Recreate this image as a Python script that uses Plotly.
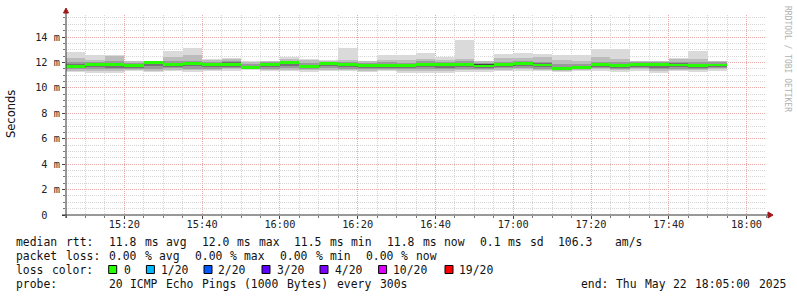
import re
import pandas as pd
import plotly.graph_objects as go

# ---------------- data (values in ms) ----------------
median = [11.70, 11.84, 11.84, 11.78, 12.00, 11.85, 11.95, 11.83, 11.82, 11.60,
          11.82, 12.00, 11.70, 11.93, 11.85, 11.74, 11.77, 11.78, 11.85, 11.81,
          11.86, 11.72, 11.85, 11.93, 11.80, 11.53, 11.58, 11.85, 11.78, 11.81,
          11.83, 11.80, 11.77, 11.80]
smoke_max = [12.82, 12.55, 12.60, 12.12, 12.15, 12.90, 13.10, 12.25, 12.35, 12.10,
             12.15, 12.40, 12.30, 12.22, 13.10, 12.15, 12.55, 12.55, 12.75, 12.45,
             13.75, 12.15, 12.63, 12.75, 12.63, 12.55, 12.55, 13.03, 13.03, 12.15,
             12.15, 12.37, 12.87, 12.15]
smoke_min = [11.25, 11.15, 11.20, 11.30, 11.22, 11.30, 11.28, 11.30, 11.35, 11.40,
             11.30, 11.30, 11.28, 11.30, 11.30, 11.22, 11.30, 11.15, 11.18, 11.20,
             11.28, 11.28, 11.30, 11.35, 11.30, 11.22, 11.30, 11.35, 11.28, 11.35,
             11.18, 11.30, 11.28, 11.35]
hi2 = [12.35, 12.20, 12.50, 12.08, 12.12, 12.45, 12.55, 12.20, 12.25, 12.05,
       12.10, 12.30, 12.20, 12.15, 12.20, 12.10, 12.20, 12.22, 12.30, 12.20,
       12.25, 12.10, 12.35, 12.35, 12.40, 12.20, 12.15, 12.45, 12.30, 12.10,
       12.10, 12.25, 12.30, 12.10]
lo2 = [11.35, 11.30, 11.32, 11.40, 11.35, 11.40, 11.38, 11.40, 11.45, 11.45,
       11.40, 11.40, 11.40, 11.40, 11.40, 11.35, 11.40, 11.30, 11.30, 11.32,
       11.40, 11.40, 11.42, 11.45, 11.40, 11.35, 11.40, 11.45, 11.40, 11.45,
       11.30, 11.40, 11.40, 11.45]
hi3 = [12.05, 12.00, 12.10, 11.98, 12.08, 12.10, 12.15, 12.05, 12.10, 11.85,
       12.00, 12.10, 11.95, 12.05, 12.05, 11.95, 12.00, 11.98, 12.08, 12.00,
       12.10, 11.95, 12.05, 12.10, 12.05, 11.85, 11.85, 12.05, 12.05, 12.02,
       12.02, 12.00, 12.05, 12.00]
lo3 = [11.45, 11.50, 11.45, 11.50, 11.50, 11.55, 11.50, 11.52, 11.55, 11.50,
       11.52, 11.55, 11.48, 11.55, 11.50, 11.45, 11.50, 11.45, 11.50, 11.48,
       11.52, 11.50, 11.55, 11.55, 11.52, 11.40, 11.45, 11.55, 11.50, 11.55,
       11.45, 11.50, 11.48, 11.55]
hi4 = [11.85, 11.95, 11.97, 11.90, 12.05, 11.98, 12.05, 11.95, 12.02, 11.72,
       11.92, 12.05, 11.82, 11.98, 11.95, 11.85, 11.88, 11.88, 11.95, 11.92,
       11.98, 11.88, 11.95, 12.00, 11.95, 11.68, 11.70, 11.95, 11.90, 11.95,
       11.95, 11.92, 11.90, 11.90]
lo4 = [11.55, 11.62, 11.60, 11.60, 11.70, 11.65, 11.70, 11.62, 11.65, 11.52,
       11.62, 11.70, 11.55, 11.70, 11.62, 11.55, 11.60, 11.58, 11.62, 11.60,
       11.65, 11.58, 11.65, 11.72, 11.62, 11.48, 11.50, 11.65, 11.58, 11.65,
       11.60, 11.62, 11.58, 11.65]
hi5 = [11.78, 11.92, 11.94, 11.84, 12.05, 11.90, 12.02, 11.90, 11.95, 11.65,
       11.88, 12.05, 11.76, 11.96, 11.90, 11.80, 11.82, 11.84, 11.90, 11.86,
       11.96, 11.84, 11.90, 11.96, 11.90, 11.60, 11.63, 11.92, 11.84, 11.92,
       11.94, 11.90, 11.82, 11.86]
lo5 = [11.62, 11.76, 11.77, 11.72, 11.92, 11.78, 11.88, 11.76, 11.77, 11.55,
       11.75, 11.92, 11.64, 11.82, 11.78, 11.68, 11.70, 11.72, 11.78, 11.74,
       11.80, 11.66, 11.78, 11.82, 11.74, 11.50, 11.53, 11.80, 11.72, 11.76,
       11.78, 11.74, 11.70, 11.74]

y_tickvals = [0, 2, 4, 6, 8, 10, 12, 14]
y_ticktext = ["0\u00a0\u00a0", "2 m", "4 m", "6 m", "8 m", "10 m", "12 m", "14 m"]

line_rtt = "median rtt:  11.8 ms avg  12.0 ms max  11.5 ms min  11.8 ms now  0.1 ms sd  106.3   am/s"
line_loss = "packet loss: 0.00 % avg  0.00 % max  0.00 % min  0.00 % now"
line_probe = "probe:       20 ICMP Echo Pings (1000 Bytes) every 300s"
line_end = "end: Thu May 22 18:05:00 2025"
loss_labels = ["0", "1/20", "2/20", "3/20", "4/20", "10/20", "19/20"]
loss_colors = ["#26ff00", "#00b8ff", "#0059ff", "#5e00ff", "#7e00ff", "#dd00ff", "#ff0000"]

t_start = "2025-05-22 15:05:00"
t_end = "2025-05-22 18:05:00"
STEP_MS = 300000

# ---------------- geometry helpers ----------------
L, R, T, B = 66, 766, 15, 215
W, H = R - L, B - T


def P(px, py):
    return (px - L) / W, (B - py) / H


n = len(median)
times = pd.date_range("2025-05-22 15:07:30", periods=n, freq="5min")

fig = go.Figure()
layers = [
    (smoke_min, smoke_max, "#dadada"),
    (lo2, hi2, "#bcbcbc"),
    (lo3, hi3, "#9a9a9a"),
    (lo4, hi4, "#747474"),
    (lo5, hi5, "#424242"),
]
for lo, hi, col in layers:
    fig.add_trace(go.Bar(
        x=times, y=[h - l for h, l in zip(hi, lo)], base=lo, width=STEP_MS,
        marker=dict(color=col, line=dict(width=0)), hoverinfo="skip",
        showlegend=False))

MED_HALF = 0.115
fig.add_trace(go.Bar(
    x=times, y=[2 * MED_HALF] * n, base=[m - MED_HALF for m in median],
    width=STEP_MS, marker=dict(color=loss_colors[0], line=dict(width=0)),
    hoverinfo="skip", showlegend=False))

GRID = "#d6d6d6"
MGRID = "#e9a9a9"
DASH = "1px,1px"
MONO = "DejaVu Sans Mono"

fig.update_layout(
    width=797, height=297,
    margin=dict(l=L, r=797 - R, t=T, b=297 - B, pad=0),
    paper_bgcolor="white", plot_bgcolor="white",
    barmode="overlay", bargap=0, showlegend=False,
    font=dict(family=MONO, size=10.3, color="#222"),
)
fig.update_xaxes(
    type="date", range=[t_start, t_end],
    tick0="2025-05-22 15:00:00", dtick=1200000, tickformat="%H:%M",
    showgrid=True, gridcolor=MGRID, griddash=DASH, gridwidth=1,
    ticks="outside", ticklen=3, tickcolor="#444", tickwidth=1,
    ticklabelstandoff=-3,
    showline=False, zeroline=False, fixedrange=True,
    tickfont=dict(family=MONO, size=10.3, color="#222"),
    minor=dict(tick0="2025-05-22 15:00:00", dtick=300000, showgrid=True,
               gridcolor=GRID, griddash=DASH, gridwidth=1,
               ticks="outside", ticklen=2, tickcolor="#777"),
)
fig.update_yaxes(
    range=[0, (B - T) / 12.714],
    tickvals=y_tickvals, ticktext=y_ticktext,
    showgrid=True, gridcolor=MGRID, griddash=DASH, gridwidth=1,
    ticks="outside", ticklen=3, tickcolor="#444", tickwidth=1,
    showline=False, zeroline=False, fixedrange=True,
    tickfont=dict(family=MONO, size=10.3, color="#222"),
    minor=dict(dtick=0.5, tick0=0, showgrid=True, gridcolor=GRID,
               griddash=DASH, gridwidth=1, ticks="outside", ticklen=2,
               tickcolor="#777"),
)

shapes = []
# axis lines
x0, y0 = P(62, 215)
x1, _ = P(769, 215)
shapes.append(dict(type="line", xref="paper", yref="paper", x0=x0, x1=x1, y0=y0, y1=y0,
                   line=dict(color="#333", width=1)))
xa, ya0 = P(66, 218)
_, ya1 = P(66, 12)
shapes.append(dict(type="line", xref="paper", yref="paper", x0=xa, x1=xa, y0=ya0, y1=ya1,
                   line=dict(color="#333", width=1)))
# arrows
ARROW = "#a01818"
tx, ty = P(773, 215)
bx, by1 = P(768, 212)
_, by2 = P(768, 218)
shapes.append(dict(type="path", xref="paper", yref="paper",
                   path=f"M {tx} {ty} L {bx} {by1} L {bx} {by2} Z",
                   fillcolor=ARROW, line=dict(color=ARROW, width=1)))
tx, ty = P(66, 8)
bx1, by = P(63.5, 13)
bx2, _ = P(68.5, 13)
shapes.append(dict(type="path", xref="paper", yref="paper",
                   path=f"M {tx} {ty} L {bx1} {by} L {bx2} {by} Z",
                   fillcolor=ARROW, line=dict(color=ARROW, width=1)))

annotations = []
LEG_SIZE = 11.4
CW = 7.13


def text_at(txt, px, py, size=LEG_SIZE, color="#111", family=MONO, angle=0,
            xanchor="left"):
    x, y = P(px, py)
    annotations.append(dict(text=txt, x=x, y=y, xref="paper", yref="paper",
                            xanchor=xanchor, yanchor="middle", showarrow=False,
                            textangle=angle, borderpad=0, borderwidth=0,
                            font=dict(family=family, size=size, color=color)))


def words_at(txt, px, py):
    for m in re.finditer(r"\S+", txt):
        text_at(m.group(), px + m.start() * CW, py)


words_at(line_rtt, 16.3, 241.5)
words_at(line_loss, 16.3, 255.5)
text_at("loss", 16.3, 269.5)
text_at("color:", 16.3 + 5 * CW, 269.5)
words_at(line_probe, 16.3, 283.5)
words_at(line_end, 580.6, 283.5)

sw_x = [108.7, 146.4, 204.0, 262.0, 320.0, 378.6, 445.0]
lab_x = [124.0, 160.7, 218.0, 277.0, 335.0, 393.0, 459.0]
for sx, lx, lab, col in zip(sw_x, lab_x, loss_labels, loss_colors):
    a0, b0 = P(sx, 273.5)
    a1, b1 = P(sx + 8, 265.5)
    shapes.append(dict(type="rect", xref="paper", yref="paper", x0=a0, x1=a1,
                       y0=b0, y1=b1, fillcolor=col, line=dict(color="#000", width=1)))
    text_at(lab, lx, 269.5)

# axis title and watermark
text_at("Seconds", 11, 114, size=11.5, family="DejaVu Sans", angle=-90,
        xanchor="center", color="#111")
text_at("RRDTOOL / TOBI OETIKER", 787, 59, size=8, family=MONO, angle=90,
        xanchor="center", color="#b0b0b0")

fig.update_layout(shapes=shapes, annotations=annotations)
fig.write_html("out.html", config={"displayModeBar": False, "staticPlot": True})
